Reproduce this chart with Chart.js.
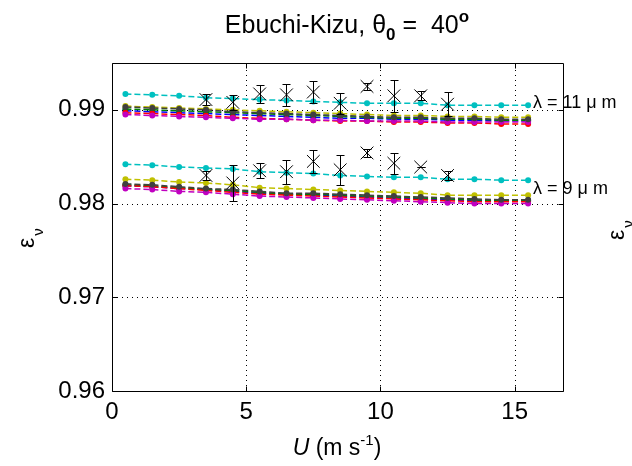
<!DOCTYPE html>
<html>
<head>
<meta charset="utf-8">
<script src="https://cdn.jsdelivr.net/npm/chart.js@4.4.1/dist/chart.umd.min.js"></script>
<style>
  html, body { margin: 0; padding: 0; background: #fff; }
  #wrap { width: 632px; height: 466px; position: relative; }
</style>
</head>
<body>
<div id="wrap"><canvas id="c" width="632" height="466"></canvas></div>
<script>
// Wind speed bins (m/s)
const windSpeeds = [0.5, 1.5, 2.5, 3.5, 4.5, 5.5, 6.5, 7.5, 8.5, 9.5, 10.5, 11.5, 12.5, 13.5, 14.5, 15.5];

// Axis ticks
const xTicks = [0, 5, 10, 15];
const yTicks = [0.96, 0.97, 0.98, 0.99];

// Model emissivity, lambda = 11 um
const e11Cyan    = [0.9917, 0.9916, 0.9915, 0.9913, 0.9912, 0.9911, 0.9910, 0.9909, 0.9908, 0.9907, 0.9907, 0.9907, 0.9905, 0.9905, 0.9905, 0.9905];
const e11Yellow  = [0.9904, 0.9903, 0.9902, 0.9901, 0.9900, 0.9899, 0.9898, 0.9897, 0.9896, 0.9895, 0.9894, 0.9894, 0.9893, 0.9893, 0.9892, 0.9892];
const e11Black   = [0.9903, 0.9902, 0.9901, 0.9900, 0.9898, 0.9897, 0.9896, 0.9895, 0.9894, 0.9893, 0.9892, 0.9892, 0.9891, 0.9891, 0.9890, 0.9890];
const e11Green   = [0.9901, 0.9900, 0.9899, 0.9898, 0.9897, 0.9896, 0.9895, 0.9894, 0.9893, 0.9892, 0.9891, 0.9891, 0.9890, 0.9890, 0.9889, 0.9889];
const e11Blue    = [0.9899, 0.9898, 0.9897, 0.9896, 0.9895, 0.9894, 0.9893, 0.9892, 0.9891, 0.9891, 0.9890, 0.9890, 0.9889, 0.9889, 0.9888, 0.9888];
const e11Red     = [0.9897, 0.9896, 0.9895, 0.9894, 0.9892, 0.9891, 0.9890, 0.9889, 0.9888, 0.9888, 0.9887, 0.9887, 0.9886, 0.9886, 0.9885, 0.9885];
const e11Magenta = [0.9895, 0.9894, 0.9893, 0.9892, 0.9891, 0.9890, 0.9890, 0.9889, 0.9889, 0.9888, 0.9888, 0.9888, 0.9887, 0.9887, 0.9887, 0.9887];

// Model emissivity, lambda = 9 um
const e9Cyan    = [0.9842, 0.9841, 0.9839, 0.9838, 0.9837, 0.9834, 0.9833, 0.9832, 0.9830, 0.9829, 0.9828, 0.9828, 0.9826, 0.9826, 0.9825, 0.9825];
const e9Yellow  = [0.9826, 0.9825, 0.9823, 0.9822, 0.9820, 0.9817, 0.9816, 0.9815, 0.9814, 0.9813, 0.9812, 0.9811, 0.9809, 0.9809, 0.9809, 0.9809];
const e9Black   = [0.9821, 0.9820, 0.9818, 0.9816, 0.9815, 0.9813, 0.9811, 0.9811, 0.9810, 0.9809, 0.9808, 0.9807, 0.9806, 0.9805, 0.9804, 0.9804];
const e9Green   = [0.9820, 0.9819, 0.9817, 0.9815, 0.9814, 0.9812, 0.9810, 0.9810, 0.9809, 0.9808, 0.9807, 0.9806, 0.9805, 0.9804, 0.9803, 0.9803];
const e9Blue    = [0.9819, 0.9818, 0.9816, 0.9815, 0.9813, 0.9811, 0.9810, 0.9809, 0.9808, 0.9807, 0.9806, 0.9805, 0.9804, 0.9803, 0.9803, 0.9803];
const e9Red     = [0.9819, 0.9818, 0.9816, 0.9814, 0.9812, 0.9810, 0.9809, 0.9808, 0.9807, 0.9806, 0.9805, 0.9804, 0.9803, 0.9802, 0.9802, 0.9802];
const e9Magenta = [0.9816, 0.9815, 0.9813, 0.9812, 0.9810, 0.9808, 0.9807, 0.9806, 0.9805, 0.9804, 0.9803, 0.9802, 0.9801, 0.9800, 0.9800, 0.9800];

// Measurements with error bars
const obsSpeeds = [3.5, 4.5, 5.5, 6.5, 7.5, 8.5, 9.5, 10.5, 11.5, 12.5];
const obs11     = [0.9911, 0.9908, 0.9917, 0.9916, 0.9919, 0.9907, 0.9925, 0.9915, 0.9915, 0.9906];
const obs11Err  = [0.0006, 0.0008, 0.0010, 0.0012, 0.0012, 0.0011, 0.0004, 0.0017, 0.0005, 0.0013];
const obs9      = [0.9830, 0.9822, 0.9835, 0.9834, 0.9845, 0.9836, 0.9854, 0.9843, 0.9839, 0.9830];
const obs9Err   = [0.0005, 0.0019, 0.0008, 0.0013, 0.0012, 0.0016, 0.0004, 0.0011, 0.00005, 0.0005];

const FONT = '"Liberation Sans", Arial, Helvetica, sans-serif';

function pts(xs, ys) { return xs.map((x, i) => ({ x: x, y: ys[i] })); }

function modelSet(data, color) {
  return {
    type: 'line',
    data: pts(windSpeeds, data),
    borderColor: color,
    backgroundColor: color,
    borderWidth: 1.5,
    borderDash: [6, 3],
    pointRadius: 3,
    pointBorderWidth: 0,
    pointHoverRadius: 0,
    tension: 0,
    fill: false
  };
}

function obsSet(xs, ys, errs) {
  return {
    type: 'scatter',
    data: pts(xs, ys),
    errors: errs,
    showLine: false,
    pointStyle: 'crossRot',
    pointRadius: 9,
    pointHoverRadius: 9,
    borderColor: '#000',
    backgroundColor: '#000',
    borderWidth: 1
  };
}

const C = { b: '#0000ff', g: '#008000', r: '#ff0000', c: '#00c0c0', m: '#c000c0', y: '#c0c000', k: '#404040' };

// Earlier datasets are painted on top
const datasets = [
  obsSet(obsSpeeds, obs11, obs11Err),
  obsSet(obsSpeeds, obs9, obs9Err),
  modelSet(e11Black, C.k), modelSet(e11Yellow, C.y), modelSet(e11Magenta, C.m), modelSet(e11Cyan, C.c),
  modelSet(e11Red, C.r), modelSet(e11Green, C.g), modelSet(e11Blue, C.b),
  modelSet(e9Black, C.k), modelSet(e9Yellow, C.y), modelSet(e9Magenta, C.m), modelSet(e9Cyan, C.c),
  modelSet(e9Red, C.r), modelSet(e9Green, C.g), modelSet(e9Blue, C.b)
];

// Dotted grid behind the data
const gridPlugin = {
  id: 'dottedGrid',
  beforeDatasetsDraw(chart) {
    const { ctx, chartArea: a, scales: { x, y } } = chart;
    ctx.save();
    ctx.strokeStyle = '#000';
    ctx.lineWidth = 1;
    ctx.setLineDash([1, 4]);
    xTicks.forEach(v => {
      const px = Math.round(x.getPixelForValue(v)) + 0.5;
      if (px <= a.left + 1 || px >= a.right - 1) return;
      ctx.beginPath(); ctx.moveTo(px, a.bottom); ctx.lineTo(px, a.top); ctx.stroke();
    });
    yTicks.forEach(v => {
      const py = Math.round(y.getPixelForValue(v)) + 0.5;
      if (py >= a.bottom - 1 || py <= a.top + 1) return;
      ctx.beginPath(); ctx.moveTo(a.left, py); ctx.lineTo(a.right, py); ctx.stroke();
    });
    ctx.restore();
  }
};

// Error bars, axes box with inward ticks, and text annotations
const decorPlugin = {
  id: 'decor',
  afterDatasetsDraw(chart) {
    const { ctx, chartArea: a, scales: { x, y } } = chart;
    ctx.save();
    // error bars
    ctx.strokeStyle = '#000';
    ctx.lineWidth = 1;
    chart.data.datasets.forEach(ds => {
      if (!ds.errors) return;
      ds.data.forEach((p, i) => {
        const px = Math.round(x.getPixelForValue(p.x)) + 0.5;
        const t = Math.round(y.getPixelForValue(p.y + ds.errors[i])) + 0.5;
        const b = Math.round(y.getPixelForValue(p.y - ds.errors[i])) + 0.5;
        ctx.beginPath();
        ctx.moveTo(px, t); ctx.lineTo(px, b);
        ctx.moveTo(px - 4, t); ctx.lineTo(px + 4, t);
        ctx.moveTo(px - 4, b); ctx.lineTo(px + 4, b);
        ctx.stroke();
      });
    });
    // box
    const L = Math.round(a.left) + 0.5, R = Math.round(a.right) + 0.5;
    const T = Math.round(a.top) + 0.5, B = Math.round(a.bottom) + 0.5;
    ctx.beginPath();
    ctx.rect(L, T, R - L, B - T);
    ctx.stroke();
    // inward ticks
    ctx.beginPath();
    xTicks.forEach(v => {
      const px = Math.round(x.getPixelForValue(v)) + 0.5;
      ctx.moveTo(px, B); ctx.lineTo(px, B - 5);
      ctx.moveTo(px, T); ctx.lineTo(px, T + 5);
    });
    yTicks.forEach(v => {
      const py = Math.round(y.getPixelForValue(v)) + 0.5;
      ctx.moveTo(L, py); ctx.lineTo(L + 5, py);
      ctx.moveTo(R, py); ctx.lineTo(R - 5, py);
    });
    ctx.stroke();

    ctx.fillStyle = '#000';
    ctx.textBaseline = 'alphabetic';

    // title
    const segs = [
      { t: 'Ebuchi-Kizu, \u03b8', f: '25px ' + FONT, dy: 0 },
      { t: '0', f: 'bold 17px ' + FONT, dy: 7 },
      { t: ' =  40', f: '25px ' + FONT, dy: 0 },
      { t: 'o', f: 'bold 17px ' + FONT, dy: -11 }
    ];
    let tw = 0;
    segs.forEach(s => { ctx.font = s.f; s.w = ctx.measureText(s.t).width; tw += s.w; });
    let tx = 347 - tw / 2;
    segs.forEach(s => { ctx.font = s.f; ctx.fillText(s.t, tx, 33 + s.dy); tx += s.w; });

    // x label
    const xs = [
      { t: 'U', f: 'italic 23px ' + FONT, dy: 0 },
      { t: ' (m s', f: '23px ' + FONT, dy: 0 },
      { t: '-1', f: '15px ' + FONT, dy: -10 },
      { t: ')', f: '23px ' + FONT, dy: 0 }
    ];
    let xw = 0;
    xs.forEach(s => { ctx.font = s.f; s.w = ctx.measureText(s.t).width; xw += s.w; });
    let xx = 337 - xw / 2;
    xs.forEach(s => { ctx.font = s.f; ctx.fillText(s.t, xx, 455 + s.dy); xx += s.w; });

    // y labels (left, and the one peeking in from the right edge)
    const yLabel = (bx, by) => {
      ctx.save();
      ctx.translate(bx, by);
      ctx.rotate(-Math.PI / 2);
      ctx.font = '23px ' + FONT;
      ctx.fillText('\u03b5', 0, 0);
      const w = ctx.measureText('\u03b5').width;
      ctx.font = '15px ' + FONT;
      ctx.fillText('\u03bd', w + 2, 9);
      ctx.restore();
    };
    yLabel(34, 248);
    yLabel(624, 240);

    // wavelength labels
    ctx.font = '18px ' + FONT;
    ctx.fillText('\u03bb = 11 \u03bc m', 533, 108);
    ctx.fillText('\u03bb = 9 \u03bc m', 533, 194);
    ctx.restore();
  }
};

new Chart(document.getElementById('c'), {
  data: { datasets: datasets },
  options: {
    responsive: false,
    devicePixelRatio: 1,
    animation: false,
    events: [],
    layout: { padding: { top: 63, right: 69, left: 0, bottom: 0 } },
    plugins: { legend: { display: false }, tooltip: { enabled: false }, title: { display: false } },
    scales: {
      x: {
        type: 'linear',
        position: 'bottom',
        min: 0,
        max: 16.8,
        afterBuildTicks: s => { s.ticks = xTicks.map(v => ({ value: v })); },
        afterFit: s => { s.height = 75; },
        grid: { display: false, drawTicks: false },
        border: { display: false },
        ticks: { color: '#000', font: { family: FONT, size: 24 }, padding: 7, maxRotation: 0, callback: v => String(v) }
      },
      y: {
        type: 'linear',
        min: 0.96,
        max: 0.995,
        afterBuildTicks: s => { s.ticks = yTicks.map(v => ({ value: v })); },
        afterFit: s => { s.width = 112; },
        grid: { display: false, drawTicks: false },
        border: { display: false },
        ticks: { color: '#000', font: { family: FONT, size: 24 }, padding: 7, callback: v => Number(v).toFixed(2) }
      }
    }
  },
  plugins: [gridPlugin, decorPlugin]
});
</script>
</body>
</html>
